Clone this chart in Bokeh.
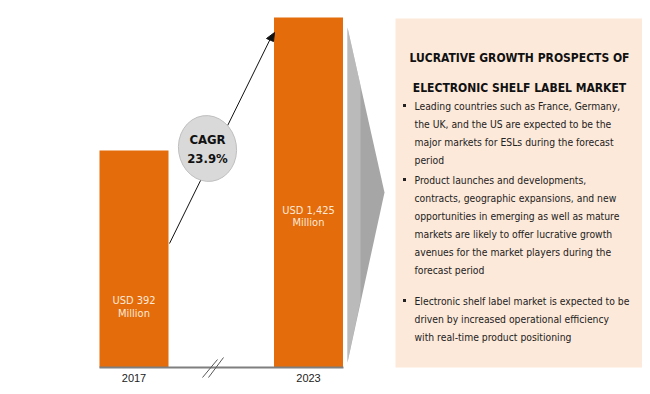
from bokeh.plotting import figure
from bokeh.models import Range1d
from bokeh.core.properties import value
from bokeh.embed import file_html
from bokeh.resources import INLINE

# ---- data ----
years = ["2017", "2023"]
market_usd_mn = [392, 1425]
bar_labels = [["USD 392", "Million"], ["USD 1,425", "Million"]]
cagr_text = ["CAGR", "23.9%"]
title_lines = ["LUCRATIVE GROWTH PROSPECTS OF", "ELECTRONIC SHELF LABEL MARKET"]
bullets = [
    ["Leading countries such as France, Germany,",
     "the UK, and the US are expected to be the",
     "major markets for ESLs during the forecast",
     "period"],
    ["Product launches and developments,",
     "contracts, geographic expansions, and new",
     "opportunities in emerging as well as mature",
     "markets are likely to offer lucrative growth",
     "avenues for the market players during the",
     "forecast period"],
    ["Electronic shelf label market is expected to be",
     "driven by increased operational efficiency",
     "with real-time product positioning"],
]

# ---- style ----
ORANGE = "#e46c0a"
PEACH = "#fde9d9"
NARROW = "'Liberation Sans Narrow', 'DejaVu Sans Condensed', 'Roboto', sans-serif"
BASE_VAL = -1293.5          # broken-axis baseline value
PX_PER_VAL = 1 / 7.767

W, H = 642, 386
p = figure(width=W, height=H, output_backend="svg", toolbar_location=None,
           x_range=Range1d(0, 642), y_range=Range1d(386, 0),
           x_axis_type=None, y_axis_type=None, min_border=0,
           outline_line_color=None, background_fill_color="white")
p.grid.visible = False

# value range for bars: pixel 367 <-> BASE_VAL
v_bottom = BASE_VAL - (386 - 367) / PX_PER_VAL
v_top = BASE_VAL + (367 - 0) / PX_PER_VAL
p.extra_y_ranges = {"val": Range1d(v_bottom, v_top)}

bar_x = [133.5, 308]
p.vbar(x=bar_x, width=69, bottom=BASE_VAL, top=market_usd_mn, y_range_name="val",
       fill_color=ORANGE, line_color=None)

# baseline and break marks
p.line(x=[99, 343], y=[367, 367], line_color="#7f7f7f", line_width=2)
p.segment(x0=[202, 208], y0=[377, 377], x1=[217, 223], y1=[359, 357],
          line_color="#595959", line_width=1)

# year labels
p.text(x=bar_x, y=[377, 377], text=years, text_align="center", text_baseline="middle",
       text_font=value("Liberation Sans"), text_font_size="11px", text_color="#222222")

# value labels inside bars
p.text(x=[bar_x[0]] * 2 + [bar_x[1]] * 2, y=[300, 313, 210, 222],
       text=bar_labels[0] + bar_labels[1], text_align="center", text_baseline="middle",
       text_font=value(NARROW), text_font_size="11px", text_color="#fde9d9")

# growth arrow
p.segment(x0=[169], y0=[243], x1=[271], y1=[36], line_color="#111111", line_width=1)
p.patch(x=[274, 266, 273], y=[32, 38, 41], fill_color="#111111", line_color="#111111")

# CAGR ellipse
p.ellipse(x=[207], y=[148], width=58, height=66, angle=0.15,
          fill_color="#d9d9d9", line_color="#bfbfbf", line_width=1)
p.text(x=[207, 207], y=[139, 158], text=cagr_text, text_align="center",
       text_baseline="middle", text_font=value(NARROW), text_font_size="13px",
       text_font_style="bold", text_color="#111111")

# chevron
p.patch(x=[347, 384, 347], y=[27, 192, 362], fill_color="#a6a6a6", line_color=None)
p.patch(x=[347, 360, 360, 347], y=[27, 85, 300, 362], fill_color="#c8c8c8", line_color=None, fill_alpha=0.6)

# text panel
p.quad(left=395, right=642, top=18, bottom=367, fill_color=PEACH, line_color=None)
p.text(x=[519, 519], y=[57, 87], text=title_lines, text_align="center",
       text_baseline="middle", text_font=value(NARROW), text_font_size="12px",
       text_font_style="bold", text_color="#111111")

starts = [105, 179, 300]
LINE = 18
xs, ys, txt = [], [], []
bx, by = [], []
for s, lines in zip(starts, bullets):
    bx.append(404)
    by.append(s)
    for i, ln in enumerate(lines):
        xs.append(414)
        ys.append(s + i * LINE)
        txt.append(ln)
p.text(x=xs, y=ys, text=txt, text_align="left", text_baseline="middle",
       text_font=value(NARROW), text_font_size="10.3px", text_color="#222222")
p.scatter(x=bx, y=by, marker="square", size=3, fill_color="#222222", line_color=None)

open("out.html", "w").write(file_html(p, INLINE))
